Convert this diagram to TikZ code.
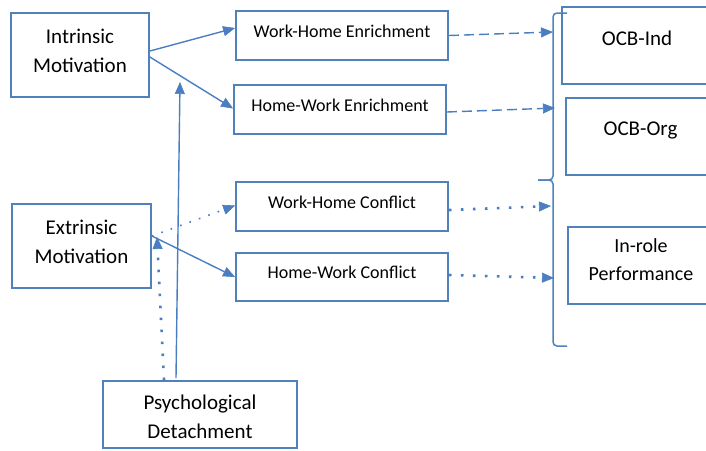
\documentclass[tikz,border=0pt]{standalone}
\usepackage{fontspec}
\setmainfont{Carlito}
\usetikzlibrary{arrows.meta}
\definecolor{boxblue}{RGB}{79,129,189}
\definecolor{lineblue}{RGB}{74,126,193}

\begin{document}
\begin{tikzpicture}[x=1pt,y=-1pt,
        box/.style={draw=boxblue,line width=1.8pt,rectangle,inner sep=0pt},
        big/.style={font=\fontsize{21}{29}\selectfont,align=center,inner sep=0pt},
        small/.style={font=\fontsize{18}{22}\selectfont,inner sep=0pt,anchor=base},
        link/.style={draw=lineblue,line width=1.4pt,-{Triangle[length=12pt,width=10pt,line width=0.6pt]}},
        dashlink/.style={link,dash pattern=on 10pt off 5pt},
        dotlink/.style={link,line width=2.6pt,dash pattern=on 2.6pt off 9.4pt},
        finedot/.style={link,line width=1.6pt,dash pattern=on 1.6pt off 8.4pt}]
        \useasboundingbox (0,0) rectangle (706,450);
                % boxes on the left
                \node[box,minimum width=138pt,minimum height=84pt] (intr) at (80,55) {};
                \node[box,minimum width=139pt,minimum height=84pt] (ext) at (81.5,246) {};
                \node[box,minimum width=194pt,minimum height=67pt] (psy) at (200,414.5) {};
                \node[big] (intrT) at (80,50.75) {Intrinsic\\Motivation};
                \node[big] (extT) at (81.5,241.75) {Extrinsic\\Motivation};
                \node[big] (psyT) at (200,416.8) {Psychological\\Detachment};

                % boxes in the middle
                \node[box,minimum width=212pt,minimum height=49pt] (whe) at (342,35.5) {};
                \node[box,minimum width=212pt,minimum height=49pt] (hwe) at (340,109.5) {};
                \node[box,minimum width=212pt,minimum height=49pt] (whc) at (342,206.5) {};
                \node[box,minimum width=212pt,minimum height=48pt] (hwc) at (342,277) {};
                \node[small] (wheT) at (342,37) {Work-Home Enrichment};
                \node[small] (hweT) at (340,111) {Home-Work Enrichment};
                \node[small] (whcT) at (342,208) {Work-Home Conflict};
                \node[small] (hwcT) at (342,278) {Home-Work Conflict};

                % outcomes, cut by the right edge
                \node[box,minimum width=150pt,minimum height=77pt] (ind) at (637,45.5) {};
                \node[box,minimum width=146pt,minimum height=77pt] (org) at (639,136.5) {};
                \node[box,minimum width=144pt,minimum height=77pt] (inr) at (640,265.5) {};
                \node[big,anchor=base] (indT) at (637,45) {OCB-Ind};
                \node[big,anchor=base] (orgT) at (640.5,135) {OCB-Org};
                \node[big,font=\fontsize{20}{28}\selectfont] (inrT) at (641,259.3) {In-role\\Performance};

                % brace
                \draw[draw=boxblue,line width=1.5pt,rounded corners=4pt] (567,13)--(553,13)--(553,180)--(538,180);
                \draw[draw=boxblue,line width=1.5pt,rounded corners=4pt] (538,180)--(553,180)--(553,346)--(567,346);
                \coordinate (tipA) at (553,32);
                \coordinate (tipB) at (555,108);
                \coordinate (tipC) at (551,206);
                \coordinate (tipD) at (554,278);

                % paths
                \draw[link] ([yshift=4pt]intr.east)--([yshift=7.5pt]whe.west);
                \draw[link] ([yshift=-2pt]intr.east)--([yshift=1pt]hwe.west);
                \draw[finedot] ([yshift=10pt]ext.east)--([yshift=1pt]whc.west);
                \draw[link] ([yshift=10pt]ext.east)--(hwc.west);
                \draw[dashlink] (whe.east)--(tipA);
                \draw[dashlink] ([yshift=-2.5pt]hwe.east)--(tipB);
                \draw[dotlink] ([yshift=-3.5pt]whc.east)--(tipC);
                \draw[dotlink] ([yshift=2pt]hwc.east)--(tipD);

                % moderation by detachment
                \coordinate (modI) at (180,82);
                \coordinate (modE) at (157,237);
                \draw[link] ([xshift=-24pt,yshift=2pt]psy.north)--(modI);
                \draw[dotlink] ([xshift=-36pt]psy.north)--(modE);
\end{tikzpicture}
\end{document}
